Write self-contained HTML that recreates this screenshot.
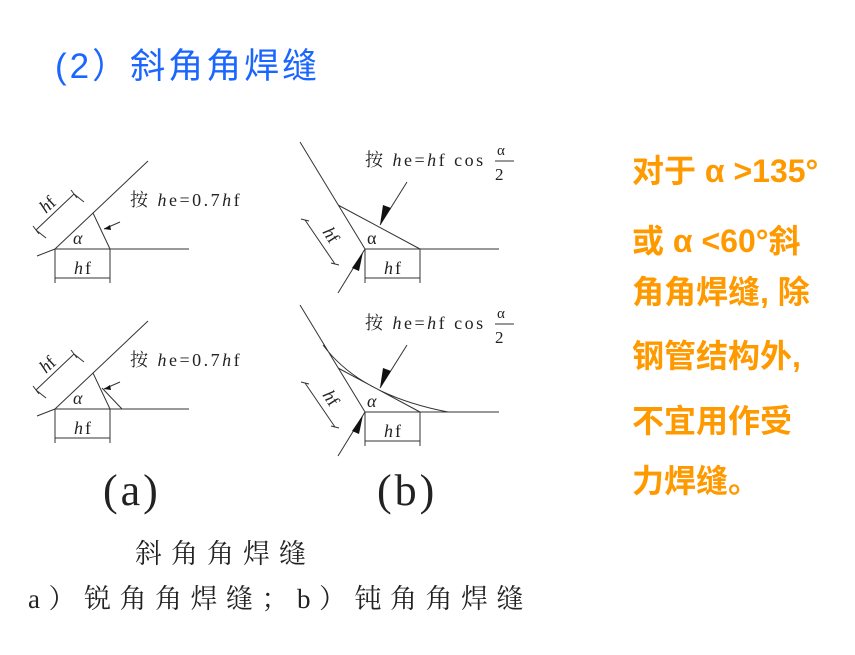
<!DOCTYPE html>
<html><head><meta charset="utf-8"><style>
body{margin:0;background:#fff;width:855px;height:655px;overflow:hidden}
svg{display:block}
.cj{font-family:"Liberation Sans","Noto Sans CJK SC",sans-serif}
.se{font-family:"Liberation Serif","Noto Serif CJK SC",serif}
</style></head><body>
<svg width="855" height="655" viewBox="0 0 855 655">
<text x="55" y="78" class="cj" font-size="35" letter-spacing="3" fill="#1a66ff">(2）斜角角焊缝</text>
<g stroke="#333" stroke-width="1" fill="none">
<path d="M55 249H189M55 249L148 161M93 213L110 249M37 256L55 249"/>
<path d="M36 230L74 194M33 226L39 234M71 190L77 198M36 230L46 238M74 194L84 202"/>
<path d="M55 249V283M110 249V283M55 278H110"/>
<path d="M120 222L104 229"/>
<path d="M55 409H189M55 409L148 321M93 373L110 409M102 388L122 409M37 416L55 409"/>
<path d="M36 390L74 354M33 386L39 394M71 350L77 358M36 390L46 398M74 354L84 362"/>
<path d="M55 409V443M110 409V443M55 438H110"/>
<path d="M120 382L104 389"/>
<path d="M365 249H499M300 142L365 249M338 205L420 249M407 182L380 225M338 293L365 249"/>
<path d="M305 220L335 264M301 219L309 221M331 263L339 265"/>
<path d="M365 249V283M420 249V283M365 278H420"/>
<path d="M365 412H499M300 305L365 412M338 368L420 412M323 345Q360 395 448 412M407 345L380 388M338 456L365 412"/>
<path d="M305 383L335 427M301 382L309 384M331 426L339 428"/>
<path d="M365 412V446M420 412V446M365 441H420"/>
<path d="M495 161H514M495 324H514"/>
</g>
<g fill="#111">
<path d="M380 225L383 205L391 208Z"/><path d="M363 252L352 268L359 271Z"/>
<path d="M380 388L383 368L391 371Z"/><path d="M363 415L352 431L359 434Z"/>
<path d="M104 229L110 225L111 230Z"/><path d="M104 389L110 385L111 390Z"/>
</g>
<g class="se" fill="#222" font-size="18">
<text x="130" y="206" letter-spacing="2.5">按 <tspan font-style="italic">h</tspan>e=0.7<tspan font-style="italic">h</tspan>f</text>
<text x="130" y="366" letter-spacing="2.5">按 <tspan font-style="italic">h</tspan>e=0.7<tspan font-style="italic">h</tspan>f</text>
<text x="365" y="166" letter-spacing="2.5">按 <tspan font-style="italic">h</tspan>e=<tspan font-style="italic">h</tspan>f cos</text>
<text x="365" y="329" letter-spacing="2.5">按 <tspan font-style="italic">h</tspan>e=<tspan font-style="italic">h</tspan>f cos</text>
<text x="497" y="155" font-size="15">α</text><text x="495" y="180" font-size="17">2</text>
<text x="497" y="318" font-size="15">α</text><text x="495" y="343" font-size="17">2</text>
<text x="73" y="244" font-style="italic">α</text><text x="73" y="404" font-style="italic">α</text>
<text x="367" y="244">α</text><text x="367" y="407" font-style="italic">α</text>
<text x="74" y="274" letter-spacing="2"><tspan font-style="italic">h</tspan>f</text>
<text x="74" y="434" letter-spacing="2"><tspan font-style="italic">h</tspan>f</text>
<text x="384" y="274" letter-spacing="2"><tspan font-style="italic">h</tspan>f</text>
<text x="384" y="437" letter-spacing="2"><tspan font-style="italic">h</tspan>f</text>
<text transform="translate(46,214) rotate(-43)"><tspan font-style="italic">h</tspan>f</text>
<text transform="translate(46,374) rotate(-43)"><tspan font-style="italic">h</tspan>f</text>
<text transform="translate(322,232) rotate(57)"><tspan font-style="italic">h</tspan>f</text>
<text transform="translate(322,395) rotate(57)"><tspan font-style="italic">h</tspan>f</text>
<text x="103" y="505" font-size="44" letter-spacing="3">(a)</text>
<text x="377" y="505" font-size="44" letter-spacing="3">(b)</text>
</g>
<text x="135" y="563" class="se" font-size="27" letter-spacing="9" fill="#222">斜角角焊缝</text>
<text x="28" y="608" class="se" font-size="27" letter-spacing="8.5" fill="#222">a）锐角角焊缝；b）钝角角焊缝</text>
<g class="cj" font-size="32" font-weight="bold" fill="#ff9900">
<text x="632" y="182">对于 α &gt;135°</text>
<text x="632" y="252">或 α &lt;60°斜</text>
<text x="632" y="303">角角焊缝, 除</text>
<text x="632" y="367">钢管结构外,</text>
<text x="632" y="432">不宜用作受</text>
<text x="632" y="492">力焊缝。</text>
</g>
</svg>
</body></html>
